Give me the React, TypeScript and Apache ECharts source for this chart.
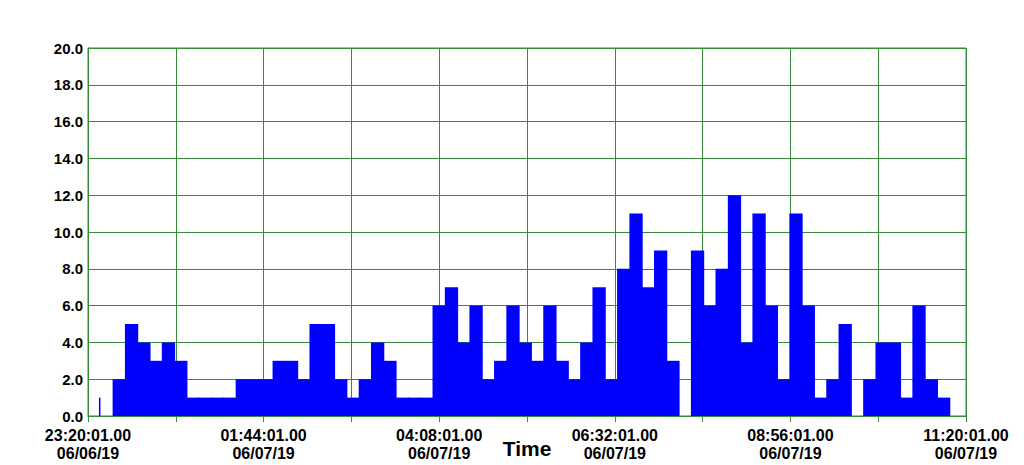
import React, { useEffect, useRef } from "react";
import * as echarts from "echarts";

// minutes from 23:20:01 06/06/19; each bar is one bin
const binMinutes = 10.09;
const binValues = [
  0, 0, 2, 5, 4, 3, 4, 3, 1, 1, 1, 1, 2, 2, 2, 3, 3, 2, 5, 5,
  2, 1, 2, 4, 3, 1, 1, 1, 6, 7, 4, 6, 2, 3, 6, 4, 3, 6, 3, 2,
  4, 7, 2, 8, 11, 7, 9, 3, 0, 9, 6, 8, 12, 4, 11, 6, 2, 11, 6, 1,
  2, 5, 0, 2, 4, 4, 1, 6, 2, 1,
];
// single thin sample
const spikeTimes = [9.6];
const spikeValues = [1];

const xTickLabels = [
  "23:20:01.00\n06/06/19",
  "01:44:01.00\n06/07/19",
  "04:08:01.00\n06/07/19",
  "06:32:01.00\n06/07/19",
  "08:56:01.00\n06/07/19",
  "11:20:01.00\n06/07/19",
];

const FONT = "'Liberation Sans', Arial, sans-serif";
const GRID_GREEN = "#3a8a3a";

export default function App() {
  const ref = useRef<HTMLDivElement>(null);
  useEffect(() => {
    if (!ref.current) return;
    const chart = echarts.init(ref.current, null, { renderer: "svg" });
    const barData = binValues.map((v, i) => [i * binMinutes, (i + 1) * binMinutes, v]);
    const spikeData = spikeTimes.map((t, i) => [t, spikeValues[i]]);
    chart.setOption({
      animation: false,
      backgroundColor: "#ffffff",
      grid: {
        left: 88, right: 58, top: 48, bottom: 49,
        outerBoundsMode: "none",
        containLabel: false,
        show: true, borderColor: GRID_GREEN, borderWidth: 1,
      },
      xAxis: {
        type: "value",
        min: 0,
        max: 720,
        interval: 72,
        name: "Time",
        nameLocation: "middle",
        nameGap: 22,
        nameMoveOverlap: false,
        nameTextStyle: { fontFamily: FONT, fontWeight: "bold", fontSize: 21, color: "#000" },
        axisLine: { show: true, lineStyle: { color: GRID_GREEN } },
        axisTick: { show: true, length: 6, lineStyle: { color: GRID_GREEN } },
        splitLine: { show: true, lineStyle: { color: GRID_GREEN, width: 1 } },
        axisLabel: {
          margin: 10,
          fontFamily: FONT,
          fontWeight: "bold",
          fontSize: 16,
          lineHeight: 18,
          color: "#000",
          showMinLabel: true,
          showMaxLabel: true,
          hideOverlap: false,
          formatter: (v: number) => {
            const k = Math.round(v / 72);
            return k % 2 === 0 ? xTickLabels[k / 2] : "";
          },
        },
      },
      yAxis: {
        type: "value",
        min: 0,
        max: 20,
        interval: 2,
        axisLine: { show: true, lineStyle: { color: GRID_GREEN } },
        axisTick: { show: false },
        splitLine: { show: true, lineStyle: { color: GRID_GREEN, width: 1 } },
        axisLabel: {
          margin: 5,
          fontFamily: FONT,
          fontWeight: "bold",
          fontSize: 15,
          color: "#000",
          formatter: (v: number) => v.toFixed(1),
        },
      },
      series: [
        {
          type: "custom",
          data: barData,
          encode: { x: [0, 1], y: 2 },
          renderItem: (params: any, api: any) => {
            const v = api.value(2);
            if (!v) return null;
            const p0 = api.coord([api.value(0), v]);
            const p1 = api.coord([api.value(1), 0]);
            return {
              type: "rect",
              shape: { x: p0[0], y: p0[1], width: p1[0] - p0[0] + 1, height: p1[1] - p0[1] },
              style: { fill: "#0000ff" },
            };
          },
        },
        {
          type: "custom",
          data: spikeData,
          encode: { x: 0, y: 1 },
          renderItem: (params: any, api: any) => {
            const p0 = api.coord([api.value(0), api.value(1)]);
            const p1 = api.coord([api.value(0), 0]);
            return {
              type: "rect",
              shape: { x: p0[0] - 0.75, y: p0[1], width: 1.5, height: p1[1] - p0[1] },
              style: { fill: "#0000ff" },
            };
          },
        },
      ],
    });
    return () => chart.dispose();
  }, []);
  return <div ref={ref} style={{ width: 1024, height: 465, position: "absolute", left: 0, top: 0 }} />;
}
